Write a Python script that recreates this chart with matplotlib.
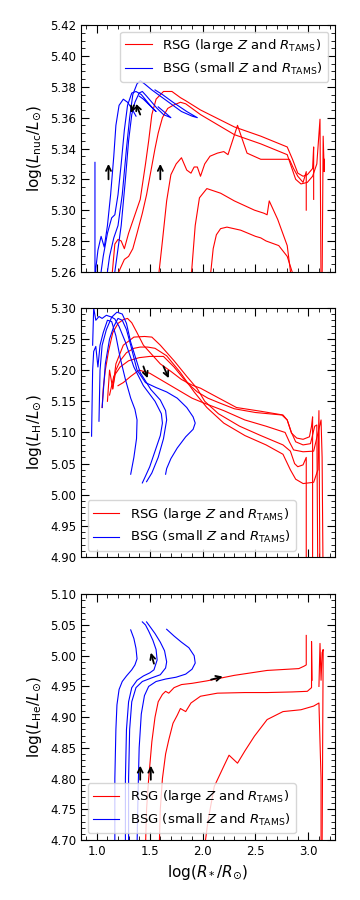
import matplotlib
matplotlib.use('Agg')
import matplotlib.pyplot as plt
from matplotlib.ticker import AutoMinorLocator, MultipleLocator

# ---- panel 1: log(L_nuc/Lsun) ----
nuc_red_r = [
    [1.14, 1.17, 1.20, 1.23, 1.26, 1.30, 1.35, 1.41, 1.46, 1.49, 1.52, 1.56, 1.63, 1.71, 1.79, 1.84, 1.98, 2.30, 2.55, 2.80, 2.85, 2.90, 2.95, 2.99, 3.04, 3.05, 3.05],
    [1.18, 1.22, 1.26, 1.30, 1.34, 1.38, 1.43, 1.47, 1.51, 1.55, 1.58, 1.62, 1.67, 1.72, 1.79, 1.84, 1.98, 2.30, 2.55, 2.80, 2.84, 2.88, 2.93, 2.99, 3.04, 3.08, 3.11, 3.12],
    [1.58, 1.62, 1.66, 1.70, 1.75, 1.80, 1.85, 1.89, 1.92, 1.95, 1.98, 2.02, 2.07, 2.14, 2.20, 2.24, 2.33, 2.42, 2.55, 2.70, 2.82, 2.86, 2.90, 2.95, 2.98, 2.98],
    [1.89, 1.93, 1.97, 2.04, 2.17, 2.30, 2.49, 2.58, 2.61, 2.63, 2.71, 2.80, 2.84, 3.00, 3.13, 3.14, 3.15, 3.15],
    [2.07, 2.10, 2.13, 2.17, 2.23, 2.36, 2.50, 2.55, 2.60, 2.72, 2.80, 2.87],
]
nuc_red_l = [
    [5.255, 5.278, 5.281, 5.280, 5.275, 5.285, 5.295, 5.307, 5.330, 5.345, 5.362, 5.372, 5.377, 5.377, 5.373, 5.371, 5.365, 5.354, 5.348, 5.341, 5.333, 5.324, 5.322, 5.323, 5.327, 5.341, 5.307],
    [5.255, 5.262, 5.268, 5.270, 5.275, 5.285, 5.298, 5.310, 5.325, 5.340, 5.350, 5.360, 5.366, 5.368, 5.370, 5.369, 5.362, 5.349, 5.343, 5.336, 5.328, 5.320, 5.317, 5.318, 5.322, 5.330, 5.359, 5.250],
    [5.255, 5.280, 5.306, 5.323, 5.330, 5.334, 5.326, 5.324, 5.328, 5.328, 5.322, 5.330, 5.335, 5.337, 5.338, 5.336, 5.355, 5.337, 5.333, 5.333, 5.333, 5.327, 5.322, 5.318, 5.325, 5.300],
    [5.255, 5.290, 5.308, 5.314, 5.311, 5.306, 5.300, 5.298, 5.297, 5.306, 5.294, 5.277, 5.255, 5.200, 5.255, 5.348, 5.325, 5.333],
    [5.255, 5.275, 5.284, 5.288, 5.289, 5.287, 5.283, 5.282, 5.280, 5.277, 5.270, 5.255],
]
nuc_blue_r = [
    [0.982, 0.982, 0.99, 1.01, 1.04, 1.07, 1.10, 1.13, 1.16, 1.18, 1.21, 1.25, 1.29, 1.33, 1.37],
    [1.02, 1.06, 1.10, 1.14, 1.17, 1.20, 1.23, 1.26, 1.29, 1.33, 1.37, 1.42, 1.48, 1.53, 1.56, 1.50, 1.44, 1.40],
    [1.08, 1.12, 1.16, 1.20, 1.24, 1.28, 1.31, 1.34, 1.38, 1.41, 1.45, 1.52, 1.60, 1.70, 1.80, 1.90, 1.95, 1.85, 1.72, 1.62, 1.55],
    [1.15, 1.19, 1.23, 1.27, 1.30, 1.33, 1.36, 1.40, 1.43, 1.47, 1.52, 1.57, 1.63, 1.70, 1.65, 1.58],
]
nuc_blue_l = [
    [5.331, 5.240, 5.262, 5.274, 5.283, 5.276, 5.290, 5.310, 5.335, 5.355, 5.368, 5.372, 5.370, 5.366, 5.361],
    [5.250, 5.270, 5.285, 5.295, 5.297, 5.310, 5.330, 5.352, 5.368, 5.376, 5.377, 5.375, 5.370, 5.366, 5.364, 5.368, 5.372, 5.374],
    [5.250, 5.270, 5.282, 5.290, 5.310, 5.340, 5.360, 5.375, 5.382, 5.384, 5.382, 5.378, 5.374, 5.369, 5.364, 5.361, 5.360, 5.364, 5.370, 5.375, 5.378],
    [5.250, 5.270, 5.290, 5.320, 5.345, 5.362, 5.370, 5.376, 5.377, 5.374, 5.370, 5.366, 5.362, 5.360, 5.363, 5.367],
]
nuc_arrows = [((1.11, 5.320), (1.11, 5.330)), ((1.60, 5.320), (1.60, 5.330)),
              ((1.41, 5.362), (1.37, 5.369)), ((1.35, 5.368), (1.32, 5.363))]

# ---- panel 2: log(L_H/Lsun) ----
h_red_r = [
    [1.05, 1.06, 1.08, 1.11, 1.15, 1.20, 1.25, 1.29, 1.33, 1.38, 1.44, 1.52, 1.60, 1.70, 1.80, 1.90, 1.98, 2.10, 2.32, 2.55, 2.76, 2.80, 2.84, 2.89, 2.95, 3.01, 3.03, 3.04, 3.04],
    [1.10, 1.12, 1.15, 1.18, 1.25, 1.35, 1.45, 1.52, 1.60, 1.73, 1.85, 1.95, 2.02, 2.15, 2.35, 2.55, 2.76, 2.83, 2.87, 2.90, 2.95, 2.98, 2.98],
    [1.15, 1.18, 1.22, 1.28, 1.35, 1.41, 1.48, 1.55, 1.66, 1.79, 1.92, 2.04, 2.20, 2.40, 2.60, 2.76, 2.83, 2.88, 2.95, 3.05, 3.09, 3.10, 3.11],
    [1.12, 1.16, 1.22, 1.30, 1.40, 1.50, 1.63, 1.73, 1.85, 1.95, 2.05, 2.15, 2.30, 2.50, 2.75, 2.80, 2.84, 2.88, 2.95, 3.02, 3.06, 3.08, 3.09],
    [1.20, 1.25, 1.32, 1.40, 1.50, 1.60, 1.70, 1.80, 1.90, 2.00, 2.20, 2.40, 2.60, 2.78, 2.82, 2.86, 2.95, 3.05, 3.12, 3.13, 3.14],
]
h_red_l = [
    [5.140, 5.170, 5.200, 5.230, 5.260, 5.275, 5.281, 5.283, 5.276, 5.260, 5.240, 5.225, 5.210, 5.198, 5.185, 5.176, 5.171, 5.160, 5.140, 5.134, 5.128, 5.120, 5.099, 5.091, 5.089, 5.093, 5.110, 5.125, 4.850],
    [5.150, 5.200, 5.170, 5.210, 5.240, 5.253, 5.254, 5.253, 5.240, 5.215, 5.190, 5.170, 5.150, 5.130, 5.110, 5.095, 5.080, 5.070, 5.050, 5.045, 5.048, 5.060, 4.850],
    [5.170, 5.200, 5.215, 5.228, 5.235, 5.237, 5.237, 5.235, 5.223, 5.196, 5.165, 5.140, 5.115, 5.095, 5.080, 5.065, 5.040, 5.025, 5.018, 5.020, 5.040, 5.135, 4.850],
    [5.160, 5.190, 5.205, 5.215, 5.220, 5.222, 5.222, 5.205, 5.180, 5.165, 5.155, 5.148, 5.138, 5.132, 5.128, 5.120, 5.100, 5.085, 5.080, 5.082, 5.110, 5.112, 4.850],
    [5.175, 5.180, 5.190, 5.200, 5.195, 5.185, 5.175, 5.165, 5.155, 5.148, 5.135, 5.120, 5.110, 5.100, 5.085, 5.072, 5.069, 5.070, 5.120, 5.060, 4.850],
]
h_blue_r = [
    [0.95, 0.96, 0.97, 0.99, 1.01, 1.03, 1.06, 1.10, 1.14, 1.18, 1.22, 1.27, 1.32, 1.36, 1.38, 1.375, 1.35, 1.32],
    [0.96, 0.97, 0.99, 1.02, 1.05, 1.09, 1.14, 1.17, 1.21, 1.27, 1.35, 1.44, 1.55, 1.61, 1.62, 1.60, 1.55, 1.50, 1.46, 1.43],
    [1.02, 1.03, 1.05, 1.09, 1.14, 1.19, 1.24, 1.28, 1.32, 1.41, 1.51, 1.60, 1.65, 1.66, 1.63, 1.58, 1.52, 1.47],
    [1.05, 1.08, 1.12, 1.16, 1.20, 1.24, 1.28, 1.32, 1.38, 1.46, 1.56, 1.66, 1.76, 1.85, 1.91, 1.93, 1.91, 1.84, 1.76, 1.70, 1.66, 1.65],
]
h_blue_l = [
    [5.094, 5.200, 5.230, 5.238, 5.205, 5.240, 5.260, 5.280, 5.278, 5.255, 5.220, 5.185, 5.155, 5.137, 5.120, 5.090, 5.060, 5.033],
    [5.240, 5.300, 5.280, 5.286, 5.283, 5.288, 5.285, 5.282, 5.270, 5.245, 5.205, 5.175, 5.150, 5.130, 5.115, 5.095, 5.070, 5.045, 5.030, 5.019],
    [5.118, 5.200, 5.240, 5.265, 5.285, 5.293, 5.290, 5.275, 5.245, 5.196, 5.169, 5.152, 5.135, 5.120, 5.090, 5.060, 5.035, 5.021],
    [5.140, 5.210, 5.250, 5.270, 5.283, 5.280, 5.265, 5.240, 5.200, 5.180, 5.172, 5.165, 5.155, 5.140, 5.125, 5.115, 5.105, 5.093, 5.075, 5.058, 5.042, 5.033],
]
h_arrows = [((1.44, 5.206), (1.48, 5.187)), ((1.63, 5.206), (1.68, 5.187))]

# ---- panel 3: log(L_He/Lsun) ----
he_red_r = [
    [1.46, 1.47, 1.49, 1.52, 1.55, 1.58, 1.62, 1.65, 1.68, 1.73, 1.80, 1.90, 2.04, 2.30, 2.61, 2.91, 2.96, 2.98, 2.98],
    [1.59, 1.60, 1.62, 1.65, 1.68, 1.72, 1.76, 1.79, 1.84, 1.89, 1.98, 2.14, 2.40, 2.61, 2.85, 2.99, 3.03, 3.03, 3.035],
    [2.02, 2.05, 2.11, 2.20, 2.25, 2.33, 2.40, 2.49, 2.61, 2.76, 2.93, 3.05, 3.10, 3.11, 3.12, 3.12],
    [3.10, 3.11, 3.12, 3.13, 3.14, 3.13],
]
he_red_l = [
    [4.690, 4.750, 4.800, 4.860, 4.900, 4.925, 4.937, 4.942, 4.939, 4.948, 4.953, 4.955, 4.959, 4.968, 4.976, 4.979, 4.983, 4.985, 5.033],
    [4.690, 4.750, 4.800, 4.840, 4.863, 4.890, 4.903, 4.914, 4.909, 4.923, 4.934, 4.939, 4.940, 4.940, 4.941, 4.942, 4.948, 5.023, 4.960],
    [4.690, 4.730, 4.787, 4.820, 4.838, 4.825, 4.845, 4.869, 4.896, 4.909, 4.912, 4.918, 4.923, 4.860, 4.800, 4.690],
    [4.950, 5.020, 4.960, 5.005, 5.010, 4.690],
]
he_blue_r = [
    [1.17, 1.17, 1.18, 1.19, 1.21, 1.24, 1.28, 1.33, 1.36, 1.38, 1.37, 1.35, 1.32],
    [1.27, 1.27, 1.28, 1.30, 1.33, 1.38, 1.44, 1.50, 1.54, 1.57, 1.56, 1.53, 1.49, 1.46, 1.43],
    [1.30, 1.30, 1.31, 1.33, 1.37, 1.43, 1.52, 1.60, 1.65, 1.66, 1.64, 1.60, 1.55, 1.50, 1.47],
    [1.38, 1.39, 1.40, 1.42, 1.45, 1.49, 1.56, 1.65, 1.75, 1.84, 1.90, 1.93, 1.92, 1.87, 1.80, 1.73, 1.66],
]
he_blue_l = [
    [4.690, 4.800, 4.880, 4.920, 4.945, 4.958, 4.967, 4.977, 4.985, 4.995, 5.012, 5.028, 5.042],
    [4.690, 4.800, 4.880, 4.925, 4.948, 4.960, 4.967, 4.972, 4.977, 4.993, 5.010, 5.025, 5.040, 5.050, 5.055],
    [4.690, 4.800, 4.880, 4.925, 4.948, 4.958, 4.964, 4.969, 4.980, 4.990, 5.008, 5.022, 5.036, 5.048, 5.055],
    [4.690, 4.780, 4.850, 4.905, 4.935, 4.950, 4.958, 4.962, 4.965, 4.970, 4.978, 4.988, 5.000, 5.013, 5.022, 5.032, 5.043],
]
he_arrows = [((1.41, 4.798), (1.41, 4.821)), ((1.51, 4.798), (1.51, 4.821)),
             ((1.54, 4.987), (1.51, 5.005)), ((2.08, 4.961), (2.19, 4.966))]

rsg_label = r'RSG (large $Z$ and $R_{\rm TAMS}$)'
bsg_label = r'BSG (small $Z$ and $R_{\rm TAMS}$)'

panels = [
    (nuc_red_r, nuc_red_l, nuc_blue_r, nuc_blue_l, nuc_arrows,
     r'$\log(L_{\rm nuc}/L_{\odot})$', (5.26, 5.42), 0.02, 'upper right'),
    (h_red_r, h_red_l, h_blue_r, h_blue_l, h_arrows,
     r'$\log(L_{\rm H}/L_{\odot})$', (4.90, 5.30), 0.05, 'lower left'),
    (he_red_r, he_red_l, he_blue_r, he_blue_l, he_arrows,
     r'$\log(L_{\rm He}/L_{\odot})$', (4.70, 5.10), 0.05, 'lower left'),
]

fig = plt.figure(figsize=(3.6, 9), dpi=100)
boxes = [[0.225, 0.698, 0.705, 0.274],
         [0.225, 0.381, 0.705, 0.277],
         [0.225, 0.0667, 0.705, 0.273]]

for i, (rr, rl, br, bl, arrows, ylab, ylim, ystep, loc) in enumerate(panels):
    ax = fig.add_axes(boxes[i])
    for k, (x, y) in enumerate(zip(rr, rl)):
        ax.plot(x, y, color='red', lw=0.8, label=rsg_label if k == 0 else None)
    for k, (x, y) in enumerate(zip(br, bl)):
        ax.plot(x, y, color='blue', lw=0.8, label=bsg_label if k == 0 else None)
    # evolution direction arrows
    for tail, head in arrows:
        ax.annotate('', xy=head, xytext=tail,
                    arrowprops=dict(arrowstyle='->', color='k', lw=1.3,
                                    mutation_scale=9, shrinkA=0, shrinkB=0))

    ax.set_xlim(0.85, 3.25)
    ax.set_ylim(*ylim)
    ax.xaxis.set_major_locator(MultipleLocator(0.5))
    ax.yaxis.set_major_locator(MultipleLocator(ystep))
    ax.xaxis.set_minor_locator(AutoMinorLocator())
    ax.yaxis.set_minor_locator(AutoMinorLocator())
    ax.tick_params(which='both', direction='in', top=True, right=True, labelsize=8.5)
    ax.tick_params(which='major', length=6)
    ax.tick_params(which='minor', length=3)
    ax.yaxis.set_major_formatter(plt.FormatStrFormatter('%.2f'))
    ax.set_ylabel(ylab, fontsize=11)
    if i < 2:
        ax.tick_params(labelbottom=False)
    else:
        ax.xaxis.set_major_formatter(plt.FormatStrFormatter('%.1f'))
        ax.set_xlabel(r'$\log(R_*/R_{\odot})$', fontsize=11)
    ax.legend(loc=loc, fontsize=9.5)

fig.savefig('out.png', dpi=100)
